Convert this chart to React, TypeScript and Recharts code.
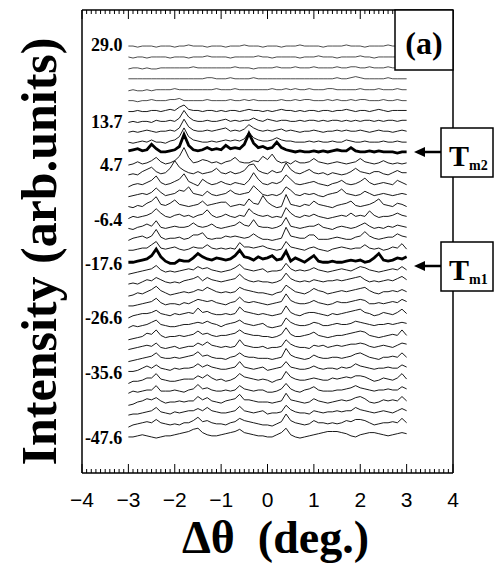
import { ComposedChart, Line, XAxis, YAxis, ReferenceDot } from "recharts";

// Δθ sampling of every trace (deg.), -3.0 … 3.0 in 0.1 steps
const theta = [
  -3, -2.9, -2.8, -2.7, -2.6, -2.5, -2.4, -2.3, -2.2, -2.1, -2, -1.9, -1.8, -1.7, -1.6, -1.5,
  -1.4, -1.3, -1.2, -1.1, -1, -0.9, -0.8, -0.7, -0.6, -0.5, -0.4, -0.3, -0.2, -0.1, 0, 0.1,
  0.2, 0.3, 0.4, 0.5, 0.6, 0.7, 0.8, 0.9, 1, 1.1, 1.2, 1.3, 1.4, 1.5, 1.6, 1.7, 1.8, 1.9, 2,
  2.1, 2.2, 2.3, 2.4, 2.5, 2.6, 2.7, 2.8, 2.9, 3,
];

// intensity traces, top (29.0) to bottom (-47.6), arb. units
const s00 = [1,1,0,1,1,1,0,1,1,1, 0,1,1,2,1,1,1,0,1,1, 1,0,1,1,1,2,1,1,1,0, 1,1,1,0,1,1,1,2,1,1, 1,1,0,1,1,1,1,2,1,1, 1,0,1,1,1,1,2,1,1,1, 1];
const s01 = [1,0,1,1,0,1,1,1,1,0, 1,1,1,0,1,1,1,2,1,1, 1,1,0,1,1,1,1,1,2,1, 1,0,1,1,1,1,1,0,1,1, 1,2,1,1,1,0,1,1,1,1, 2,1,1,0,1,1,1,1,1,0, 1];
const s02 = [0,1,1,0,1,0,0,1,1,1, 1,1,1,1,2,1,1,1,1,1, 1,1,1,2,1,1,1,0,1,1, 1,1,2,1,1,1,2,1,1,1, 2,1,1,1,1,2,1,1,2,2, 1,1,2,1,1,1,2,1,1,1, 1];
const s03 = [1,1,1,1,1,1,1,1,1,1, 1,1,1,1,1,1,1,2,2,1, 1,1,2,1,1,1,1,2,1,1, 1,1,1,1,1,1,1,1,1,1, 1,1,1,1,1,2,1,1,2,3, 2,1,1,1,1,1,2,1,1,1, 1];
const s04 = [0,1,0,0,1,0,1,1,1,1, 2,1,1,1,1,1,1,1,1,2, 1,1,1,2,1,1,1,1,1,1, 1,2,1,1,2,1,2,1,1,2, 1,1,1,2,2,1,1,1,1,1, 2,1,1,1,2,1,1,1,2,1, 1];
const s05 = [1,1,0,1,1,2,1,1,1,2, 2,3,1,1,1,1,1,2,1,1, 1,1,2,1,1,2,1,2,1,1, 1,1,1,2,1,1,2,1,2,2, 1,1,1,2,1,2,1,1,2,1, 2,2,1,1,1,2,1,1,2,1, 1];
const s06 = [1,1,2,1,1,2,2,1,2,3, 2,5,7,3,2,2,1,2,2,1, 2,1,2,2,1,2,3,2,2,1, 2,1,2,3,2,2,1,2,1,2, 2,1,2,2,1,2,2,3,2,1, 2,2,1,2,3,2,1,2,2,2, 2];
const s07 = [1,2,1,2,2,1,3,2,2,3, 2,5,12,6,3,2,2,3,2,2, 3,4,2,3,2,3,3,5,3,2, 4,3,2,3,3,2,2,3,2,3, 3,2,3,2,3,3,2,3,2,3, 2,3,3,2,3,2,3,3,2,3, 3];
const s08 = [2,3,2,3,4,3,2,3,3,4, 3,6,14,7,4,3,3,4,3,4, 5,6,3,4,3,5,9,6,4,3, 4,3,4,5,3,4,3,2,3,3, 4,3,2,3,3,4,3,4,3,3, 4,3,2,3,4,3,3,2,3,4, 3];
const s09 = [3,2,3,4,3,5,3,3,2,4, 5,8,16,8,5,4,3,3,4,3, 4,5,4,5,4,6,12,7,5,4, 4,5,7,5,4,4,3,3,3,4, 3,4,3,3,4,3,3,5,4,3, 3,4,3,3,3,4,3,3,4,3, 3];
const s10 = [5,6,7,5,6,11,7,4,4,5, 6,9,20,10,6,5,6,8,6,7, 6,10,7,8,7,11,21,12,8,9, 7,8,13,8,6,5,4,5,4,4, 5,4,5,4,5,6,5,5,8,5, 4,4,5,4,5,4,4,4,3,4, 4];
const s11 = [2,3,5,3,4,6,9,5,3,4, 6,10,18,9,4,5,7,6,4,5, 3,5,6,9,5,4,4,6,5,10, 7,12,6,4,5,3,6,4,4,5, 8,5,4,3,4,5,4,3,4,5, 8,5,4,3,4,6,4,3,4,3, 4];
const s12 = [3,4,3,6,8,10,6,4,5,9, 16,10,7,5,4,6,4,5,6,9, 5,4,6,4,5,7,12,13,7,5, 4,7,5,6,14,8,5,4,6,8, 5,4,5,3,5,4,3,4,6,9, 6,5,4,6,6,4,3,5,7,5, 5];
const s13 = [2,4,5,4,6,8,12,6,4,5, 7,9,14,7,5,3,9,6,4,5, 7,5,4,6,5,4,8,15,9,5, 4,6,5,7,13,9,5,4,5,6, 7,5,4,3,5,6,8,5,4,5, 7,10,6,4,5,6,5,4,8,6, 4];
const s14 = [3,4,5,6,5,7,11,7,4,5, 6,9,8,12,6,5,4,8,5,4, 5,6,9,6,5,6,7,13,9,5, 4,5,4,6,12,9,5,4,6,5, 6,4,3,5,6,7,10,6,5,4, 5,8,6,4,5,6,5,4,5,6, 5];
const s15 = [4,3,5,4,7,9,13,6,5,7, 10,6,5,4,5,6,9,5,6,7, 8,8,4,5,6,5,11,7,6,14, 8,5,3,4,15,6,5,4,6,5, 9,6,5,4,3,5,6,7,9,5, 4,5,6,8,11,6,5,4,7,6, 4];
const s16 = [3,5,4,5,6,8,12,8,5,4, 6,7,5,6,4,6,7,11,6,4, 5,7,5,4,6,5,12,8,6,5, 6,4,5,4,13,8,5,4,6,5, 7,5,4,3,4,5,6,5,8,5, 6,5,10,6,4,5,5,6,8,6, 5];
const s17 = [4,3,5,6,8,6,11,5,4,5, 6,5,5,6,9,6,5,6,8,5, 4,5,6,7,10,7,6,12,6,5, 5,4,5,7,14,6,5,4,5,6, 6,8,5,4,3,5,6,5,4,5, 7,9,6,4,5,4,6,5,7,6, 5];
const s18 = [3,5,6,7,5,7,13,6,4,5, 5,6,4,5,8,8,10,5,4,5, 5,7,6,7,6,5,6,9,6,4, 4,3,4,5,15,7,6,5,5,8, 8,4,4,4,5,6,5,4,4,6, 7,11,7,5,4,5,6,6,9,7, 6];
const s19 = [4,4,5,6,6,9,12,6,5,6, 7,5,4,5,7,6,6,9,6,5, 6,5,6,5,11,7,7,6,7,8, 6,5,4,5,12,7,6,5,4,6, 7,5,4,3,5,6,7,6,5,6, 6,9,6,5,6,4,5,7,6,10, 5];
const s20 = [3,3,4,5,6,9,15,8,4,2, 2,5,4,4,7,11,8,6,5,7, 6,5,6,9,14,8,7,5,8,6, 7,9,5,6,13,4,7,5,3,6, 9,4,3,3,4,3,3,4,5,4, 5,3,4,7,11,5,4,5,7,6, 8];
const s21 = [2,3,4,5,6,7,10,6,4,5, 4,5,6,7,6,9,7,8,6,5, 4,5,6,8,11,7,6,5,6,7, 4,5,5,6,12,7,5,6,5,6, 8,6,5,4,5,6,7,6,5,7, 9,8,6,5,4,5,6,7,6,9, 6];
const s22 = [3,4,3,5,7,6,9,7,5,4, 5,4,6,7,8,10,6,9,7,6, 5,6,7,8,12,8,6,5,6,5, 5,4,5,7,13,8,6,5,6,5, 7,6,5,6,6,7,6,7,8,9, 10,7,5,6,5,6,7,6,8,10, 7];
const s23 = [2,3,5,4,6,8,11,7,5,3, 4,5,6,5,6,8,7,10,8,6, 5,6,5,6,10,8,7,6,5,5, 4,3,5,6,12,9,6,5,4,6, 9,7,6,4,5,6,7,6,7,8, 9,10,7,5,4,6,6,7,6,8, 6];
const s24 = [3,3,4,5,6,7,10,6,4,5, 5,4,6,5,7,9,8,7,8,6, 5,4,6,7,11,7,6,7,6,5, 4,5,6,7,14,8,6,5,5,6, 8,6,5,4,5,7,6,6,7,8, 9,8,5,5,6,5,6,7,6,9, 7];
const s25 = [2,4,5,6,6,7,9,6,5,4, 6,5,6,7,6,11,7,8,6,5, 5,6,5,6,12,8,7,6,5,6, 5,4,5,6,13,7,5,4,6,7, 7,6,5,4,6,5,6,7,8,9, 10,7,6,4,5,7,6,5,7,10, 6];
const s26 = [3,5,4,5,6,8,10,6,5,4, 4,5,6,6,7,8,7,9,7,6, 4,6,7,8,10,7,6,5,6,7, 4,3,4,5,12,8,6,5,5,6, 8,7,5,5,6,7,6,6,7,9, 8,7,6,5,6,6,7,6,7,8, 7];
const s27 = [2,3,4,5,8,7,11,6,4,5, 5,6,5,6,7,10,7,8,6,5, 6,6,7,8,11,8,7,6,6,5, 5,4,5,7,13,7,5,5,6,7, 9,6,5,4,5,6,6,7,8,9, 10,9,6,5,4,5,6,7,6,11, 6];
const s28 = [3,4,5,6,7,6,9,5,4,5, 6,4,5,6,6,9,7,10,7,6, 5,6,5,6,12,7,6,5,5,6, 4,5,5,6,12,8,6,5,5,4, 7,6,7,5,6,7,6,7,8,8, 9,8,6,5,6,7,6,5,7,9, 8];
const s29 = [2,3,4,5,6,7,10,6,5,5, 6,5,6,7,8,11,7,8,6,5, 5,4,6,7,10,7,6,6,5,5, 5,4,5,6,14,8,6,5,4,5, 8,6,5,5,6,6,5,6,7,9, 10,8,6,5,4,6,6,7,6,10, 6];
const s30 = [3,3,4,6,8,6,9,6,5,4, 6,5,6,6,7,10,7,9,7,6, 5,5,6,7,12,7,6,5,6,7, 4,5,6,7,12,7,6,5,5,6, 8,6,5,6,6,5,7,6,7,10, 8,7,6,5,6,6,7,6,6,9, 7];
const s31 = [2,4,4,5,7,7,11,6,5,4, 4,5,6,6,6,9,7,10,7,5, 6,4,5,7,11,8,7,6,5,6, 5,3,5,6,13,8,6,5,5,6, 7,6,5,5,7,6,7,8,7,9, 9,8,6,4,5,7,6,5,7,11, 6];
const s32 = [3,5,4,5,6,6,10,5,5,5, 6,5,4,6,7,11,7,8,6,5, 5,6,5,6,10,7,6,5,6,6, 4,4,5,7,12,7,5,4,6,7, 9,6,5,5,5,6,6,7,8,10, 8,7,6,5,6,6,7,6,6,9, 7];
const s33 = [2,3,5,6,8,7,9,6,4,5, 5,6,5,6,6,10,7,9,6,5, 4,6,7,8,12,7,7,6,5,5, 5,4,5,6,13,7,6,5,4,5, 8,6,5,4,5,6,7,6,7,9, 10,8,5,4,5,7,6,7,6,10, 6];
const s34 = [3,4,4,5,6,7,10,6,5,4, 6,5,6,7,7,9,7,10,7,6, 5,5,6,7,11,7,6,5,6,7, 4,5,5,6,12,8,6,5,5,4, 7,6,5,6,6,7,6,7,7,10, 8,7,6,5,6,7,6,5,7,9, 7];
const s35 = [2,4,5,6,7,6,9,6,5,4, 5,4,6,6,8,11,7,8,6,5, 5,4,6,7,10,8,7,6,5,4, 4,3,5,7,14,8,6,5,4,5, 8,6,6,5,6,5,6,8,7,9, 9,8,6,4,5,6,6,7,6,10, 6];
const s36 = [3,3,4,5,4,3,2,3,4,4, 5,6,7,8,10,11,7,5,4,4, 5,6,7,8,10,7,6,5,4,4, 3,3,5,7,11,5,3,2,3,4, 5,6,7,8,8,8,7,6,4,3, 5,6,7,7,6,5,4,5,6,7, 6];

const series = [
  s00, s01, s02, s03, s04, s05, s06, s07, s08, s09, s10, s11, s12, s13, s14, s15, s16, s17, s18,
  s19, s20, s21, s22, s23, s24, s25, s26, s27, s28, s29, s30, s31, s32, s33, s34, s35, s36,
];

// temperature labels and the trace they sit beside
const rowLabels = ["29.0", "13.7", "4.7", "-6.4", "-17.6", "-26.6", "-35.6", "-47.6"];
const rowLabelTrace = [0, 7, 11, 16, 20, 25, 30, 36];

// highlighted transitions
const tm2Trace = 10;
const tm1Trace = 20;

// frame ticks every 0.1 deg., labelled on whole degrees
const frameTicks = Array.from({ length: 81 }, (_, i) => Math.round((-4 + i * 0.1) * 10) / 10);

const STEP = 10;
const Y_MIN = -30;
const Y_MAX = 394;
const last = series.length - 1;

const rows = theta.map((x, j) => {
  const r: Record<string, number> = { x };
  series.forEach((s, i) => {
    r[`t${i}`] = s[j] + (last - i) * STEP;
  });
  return r;
});

const serif = "'Liberation Serif', 'Times New Roman', serif";
const sans = "'Liberation Sans', Arial, sans-serif";
const frameLine = { stroke: "#000", strokeWidth: 1.5 };

const fmt = (v: number) => (v < 0 ? `\u2212${Math.abs(v)}` : `${v}`);

function BottomTick(p: any) {
  const v = p.payload.value;
  const major = Number.isInteger(v);
  return (
    <g>
      <line x1={p.x} x2={p.x} y1={p.y} y2={p.y - (major ? 9 : 4)} stroke="#000" strokeWidth={1} />
      {major && (
        <text x={p.x} y={p.y + 19} dy="0.71em" textAnchor="middle" fill="#000" fontSize={21} fontFamily={sans}>
          {fmt(v)}
        </text>
      )}
    </g>
  );
}

function TopTick(p: any) {
  const major = Number.isInteger(p.payload.value);
  return <line x1={p.x} x2={p.x} y1={p.y} y2={p.y + (major ? 9 : 4)} stroke="#000" strokeWidth={1} />;
}

function TmBox({ y, sub }: { y: number; sub: string }) {
  return (
    <g>
      <line x1={424} y1={y + 24} x2={441} y2={y + 24} stroke="#000" strokeWidth={2.5} />
      <polygon points={`${414},${y + 24} ${425},${y + 19} ${425},${y + 29}`} fill="#000" />
      <rect x={441} y={y} width={52} height={49} fill="#fff" stroke="#000" strokeWidth={1.5} />
      <text x={449} y={y + 38} fontFamily={serif} fontWeight="bold" fontSize={30}>
        T
      </text>
      <text x={469} y={y + 42} fontFamily={serif} fontWeight="bold" fontSize={14}>
        {sub}
      </text>
    </g>
  );
}

export default function App() {
  return (
    <div style={{ position: "relative", width: 500, height: 569, background: "#fff" }}>
      <style>{"body{margin:0}"}</style>
      <ComposedChart
        width={500}
        height={569}
        data={rows}
        margin={{ top: 9, right: 46, bottom: 0, left: 0 }}
      >
        <XAxis
          dataKey="x"
          type="number"
          domain={[-4, 4]}
          ticks={frameTicks}
          interval={0}
          allowDataOverflow
          height={96}
          axisLine={frameLine}
          tickLine={false}
          tickSize={0}
          tickMargin={0}
          tick={BottomTick}
          label={{
            value: "\u0394\u03b8\u00a0\u00a0(deg.)",
            position: "insideBottom",
            offset: 16,
            dx: 8,
            fill: "#000",
            fontSize: 46,
            fontWeight: "bold",
            fontFamily: serif,
          }}
        />
        <XAxis
          xAxisId="top"
          orientation="top"
          dataKey="x"
          type="number"
          domain={[-4, 4]}
          ticks={frameTicks}
          interval={0}
          allowDataOverflow
          height={1}
          axisLine={frameLine}
          tickLine={false}
          tickSize={0}
          tickMargin={0}
          tick={TopTick}
        />
        <YAxis
          type="number"
          domain={[Y_MIN, Y_MAX]}
          allowDataOverflow
          width={82}
          axisLine={frameLine}
          tickLine={false}
          tick={false}
          label={{
            value: "Intensity (arb.units)",
            angle: -90,
            position: "center",
            dx: -3,
            dy: 10,
            fill: "#000",
            fontSize: 50,
            fontWeight: "bold",
            fontFamily: serif,
          }}
        />
        <YAxis
          yAxisId="right"
          orientation="right"
          type="number"
          domain={[Y_MIN, Y_MAX]}
          allowDataOverflow
          width={1}
          axisLine={frameLine}
          tickLine={false}
          tick={false}
        />
        {/* binds the top and right frame axes to the same data; draws nothing */}
        <Line
          xAxisId="top"
          yAxisId="right"
          dataKey="t0"
          stroke="none"
          dot={false}
          activeDot={false}
          isAnimationActive={false}
        />
        {series.map((_, i) => {
          const thick = i === tm1Trace || i === tm2Trace;
          return (
            <Line
              key={i}
              dataKey={`t${i}`}
              type="linear"
              dot={false}
              stroke="#000"
              strokeWidth={thick ? 2.8 : i < 6 ? 0.7 : 0.9}
              isAnimationActive={false}
            />
          );
        })}
        {rowLabels.map((lab, k) => (
          <ReferenceDot
            key={lab}
            x={-3}
            y={(last - rowLabelTrace[k]) * STEP + 2}
            r={0}
            fill="none"
            stroke="none"
            label={{
              value: lab,
              position: "left",
              offset: 6,
              fill: "#000",
              fontSize: 18,
              fontWeight: "bold",
              fontFamily: serif,
            }}
          />
        ))}
      </ComposedChart>
      <svg
        width={500}
        height={569}
        style={{ position: "absolute", left: 0, top: 0, pointerEvents: "none" }}
      >
        <rect x={395} y={10} width={58} height={60} fill="#fff" stroke="#000" strokeWidth={1.5} />
        <text
          x={424}
          y={54}
          textAnchor="middle"
          fontFamily={serif}
          fontWeight="bold"
          fontSize={32}
        >
          (a)
        </text>
        <TmBox y={128} sub="m2" />
        <TmBox y={242} sub="m1" />
      </svg>
    </div>
  );
}
